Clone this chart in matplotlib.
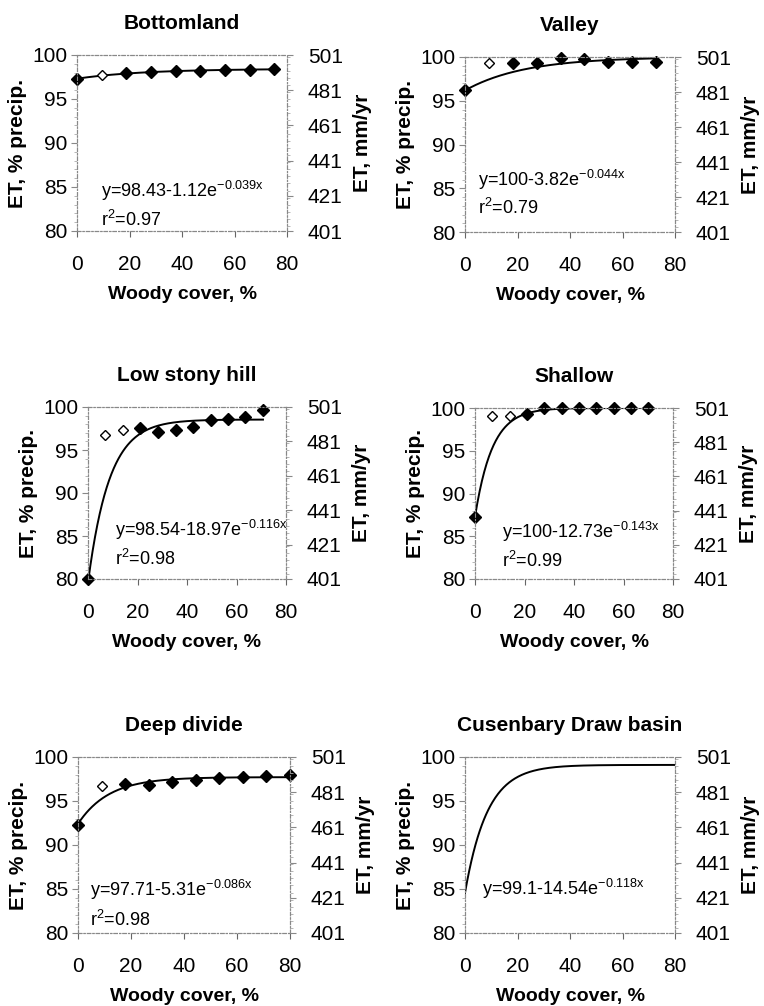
import numpy as np
import matplotlib
matplotlib.use("Agg")
import matplotlib.pyplot as plt
from matplotlib.ticker import MultipleLocator

plt.rcParams['font.family'] = ['Liberation Sans', 'DejaVu Sans']
plt.rcParams['mathtext.fontset'] = 'custom'
plt.rcParams['mathtext.rm'] = 'Liberation Sans'
plt.rcParams['mathtext.it'] = 'Liberation Sans:italic'

# panel titles
titles = ["Bottomland", "Valley", "Low stony hill", "Shallow", "Deep divide",
          "Cusenbary Draw basin"]

# observed points (woody cover %, ET % precip.)
bottom_x = [0, 9.4, 18.8, 28.2, 37.6, 47.0, 56.4, 65.8, 75.2]
bottom_y = [97.27, 97.77, 97.99, 98.03, 98.18, 98.22, 98.30, 98.33, 98.45]
bottom_open = [1]

valley_x = [0, 9.1, 18.2, 27.3, 36.4, 45.5, 54.6, 63.7, 72.8]
valley_y = [96.19, 99.31, 99.31, 99.35, 99.89, 99.77, 99.39, 99.39, 99.39]
valley_open = [1]

stony_x = [0, 7.07, 14.1, 21.2, 28.3, 35.4, 42.4, 49.5, 56.6, 63.6, 70.7]
stony_y = [80.0, 96.7, 97.36, 97.56, 97.13, 97.33, 97.67, 98.53, 98.64, 98.84, 99.61]
stony_open = [1, 2]

shallow_x = [0, 7, 14, 21, 28, 35, 42, 49, 56, 63, 70]
shallow_y = [87.25, 99.03, 99.1, 99.3, 100, 100, 100, 100, 100, 100, 100]
shallow_open = [1, 2]

deep_x = [0, 8.9, 17.8, 26.7, 35.6, 44.4, 53.3, 62.2, 71.1, 80]
deep_y = [92.31, 96.74, 96.89, 96.82, 97.2, 97.42, 97.65, 97.73, 97.8, 97.92]
deep_open = [1]

basin_x = []
basin_y = []
basin_open = []

# fitted curves y = a - b*exp(-k x), drawn over [0, xmax]
fit_a = [98.43, 100, 98.54, 100, 97.71, 99.1]
fit_b = [1.12, 3.82, 18.97, 12.73, 5.31, 14.54]
fit_k = [0.039, 0.044, 0.116, 0.143, 0.086, 0.118]
fit_xmax = [75.2, 72.8, 70.7, 70, 80, 80]
fit_r2 = ["0.97", "0.79", "0.98", "0.99", "0.98", None]
fit_a_txt = ["98.43", "100", "98.54", "100", "97.71", "99.1"]
fit_b_txt = ["1.12", "3.82", "18.97", "12.73", "5.31", "14.54"]
fit_k_txt = ["0.039", "0.044", "0.116", "0.143", "0.086", "0.118"]

# label positions in data coords (x, y of equation; y of r2)
eq_pos = [(9.3, 84.5, 81.3), (4.8, 85.9, 82.7), (11.1, 85.7, 82.3),
          (10.8, 85.5, 82.1), (4.7, 84.9, 81.5), (6.3, 85.0, None)]

points = [(bottom_x, bottom_y, bottom_open), (valley_x, valley_y, valley_open),
          (stony_x, stony_y, stony_open), (shallow_x, shallow_y, shallow_open),
          (deep_x, deep_y, deep_open), (basin_x, basin_y, basin_open)]

# axes rectangles in pixels: left, top, right, bottom
W, H = 764, 1006
boxes = [(77, 55, 287, 231), (465, 57, 675, 232),
         (88, 407, 286, 579), (475, 408, 673, 579),
         (78, 757, 290, 933), (465, 757, 675, 933)]

fig = plt.figure(figsize=(W / 100, H / 100), dpi=100)

for i, title in enumerate(titles):
    l, t, r, b = boxes[i]
    ax = fig.add_axes([l / W, 1 - b / H, (r - l) / W, (b - t) / H])
    ax2 = ax.twinx()

    xs, ys, opens = points[i]
    xf = np.linspace(0, fit_xmax[i], 300)
    yf = fit_a[i] - fit_b[i] * np.exp(-fit_k[i] * xf)
    ax.plot(xf, yf, color='black', lw=1.4, zorder=3)
    for j in range(len(xs)):
        if j in opens:
            ax.plot(xs[j], ys[j], marker='D', ms=5.2, mfc='white', mec='black',
                    mew=1.0, clip_on=False, zorder=4)
        else:
            ax.plot(xs[j], ys[j], marker='D', ms=6.3, mfc='black', mec='black',
                    clip_on=False, zorder=4)

    ex, ey, ry = eq_pos[i]
    ax.text(ex, ey, "y=%s-%se$^{\\mathrm{-%sx}}$" % (fit_a_txt[i], fit_b_txt[i], fit_k_txt[i]),
            fontsize=13, va='center', ha='left')
    if fit_r2[i] is not None:
        ax.text(ex, ry, "r$^{\\mathrm{2}}$=%s" % fit_r2[i], fontsize=13,
                va='center', ha='left')

    ax.set_xlim(0, 80)
    ax.set_ylim(80, 100)
    ax.set_xticks([0, 20, 40, 60, 80])
    ax.set_yticks([80, 85, 90, 95, 100])
    ax.yaxis.set_minor_locator(MultipleLocator(1))
    ax2.set_ylim(401, 501)
    ax2.set_yticks([401, 421, 441, 461, 481, 501])
    ax2.yaxis.set_minor_locator(MultipleLocator(4))

    for a in (ax, ax2):
        for s in a.spines.values():
            s.set_color('#888888')
            s.set_linestyle((0, (3, 2, 1, 2)))
            s.set_linewidth(0.8)
    ax.tick_params(axis='x', labelsize=15, length=4, pad=13, color='#666666')
    ax.tick_params(axis='y', labelsize=15, length=4, pad=3, color='#888888')
    ax.tick_params(axis='y', which='minor', length=2, color='#aaaaaa')
    ax2.tick_params(axis='y', labelsize=15, length=4, pad=11, color='#888888')
    ax2.tick_params(axis='y', which='minor', length=2, color='#aaaaaa')

    ax.set_title(title, fontsize=15, fontweight='bold', pad=19)
    ax.set_xlabel("Woody cover, %", fontsize=14, fontweight='bold', labelpad=9)
    ax.set_ylabel("ET, % precip.", fontsize=15, fontweight='bold', labelpad=4)
    ax2.set_ylabel("ET, mm/yr", fontsize=15, fontweight='bold', labelpad=7)

fig.savefig("out.png", dpi=100)
